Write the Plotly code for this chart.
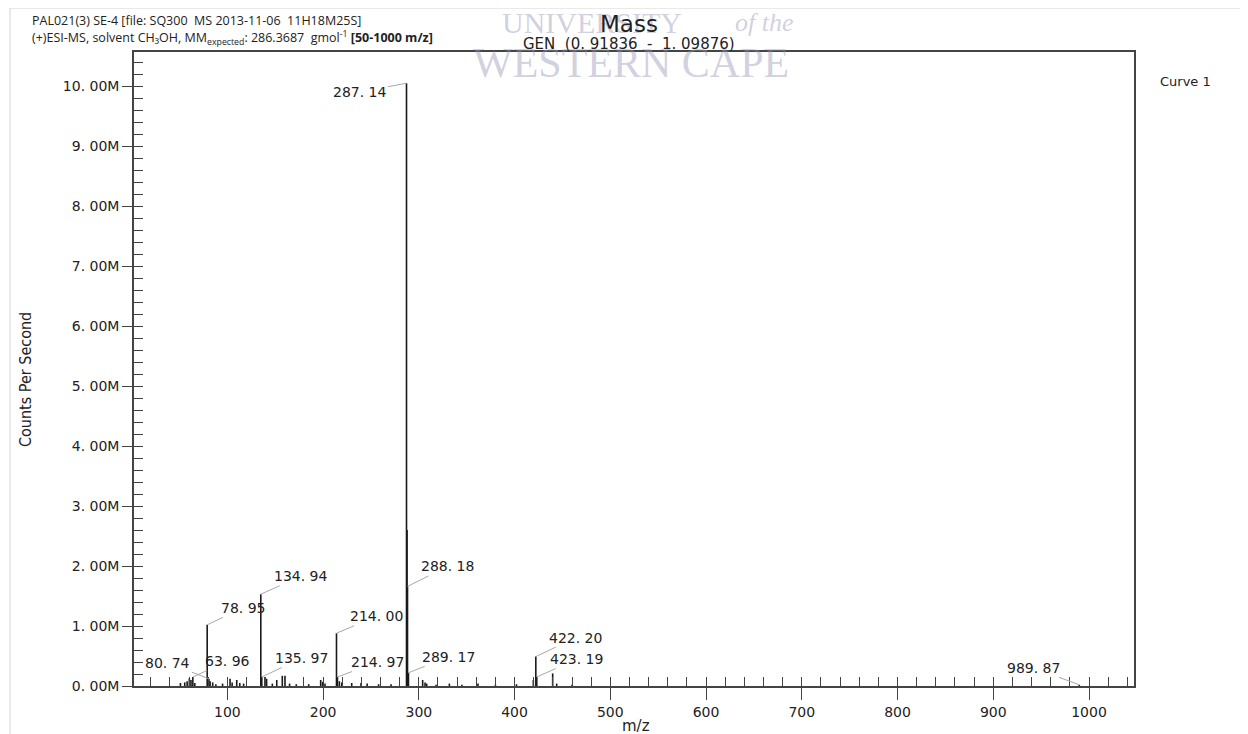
import plotly.graph_objects as go

# ---------------- data ----------------
peak_mz = [51.0, 55.5, 58.0, 60.3, 62.0, 63.96, 66.0, 78.95, 80.74, 82.0, 84.7, 88.0,
           95.0, 102.8, 105.0, 109.8, 113.0, 117.0, 134.94, 135.97, 139.3, 141.0,
           147.0, 151.6, 157.4, 160.2, 165.0, 172.0, 185.0, 197.5, 199.5, 202.0,
           214.00, 214.97, 217.0, 219.5, 229.9, 239.6, 246.0, 258.0, 271.0,
           287.14, 287.7, 288.18, 289.17, 304.0, 306.5, 308.2, 318.0, 331.9, 345.0,
           361.8, 380.0, 402.0, 419.6, 422.20, 423.19, 439.8, 444.0, 460.0, 989.87]
peak_counts_m = [0.05, 0.06, 0.08, 0.13, 0.10, 0.15, 0.05, 1.02, 0.12, 0.08, 0.06, 0.03,
                 0.04, 0.12, 0.06, 0.10, 0.05, 0.04, 1.53, 0.15, 0.15, 0.12,
                 0.04, 0.10, 0.17, 0.17, 0.04, 0.03, 0.03, 0.10, 0.07, 0.04,
                 0.88, 0.15, 0.08, 0.06, 0.05, 0.05, 0.04, 0.03, 0.03,
                 10.05, 2.60, 1.66, 0.22, 0.10, 0.06, 0.04, 0.02, 0.04, 0.02,
                 0.04, 0.02, 0.03, 0.10, 0.49, 0.15, 0.21, 0.04, 0.02, 0.02]

label_mz = [287.14, 288.18, 289.17, 78.95, 80.74, 63.96, 134.94, 135.97,
            214.00, 214.97, 422.20, 423.19, 989.87]
label_text = ["287. 14", "288. 18", "289. 17", "78. 95", "80. 74", "63. 96", "134. 94",
              "135. 97", "214. 00", "214. 97", "422. 20", "423. 19", "989. 87"]
label_offsets = [(-47, 9), (40, -20), (40, -16), (36, -17), (-41, -16), (35, -16),
                 (40, -18), (40, -19), (40, -17), (40, -15), (40, -19), (40, -18),
                 (-46, -17)]

y_tick_vals_m = [0, 1, 2, 3, 4, 5, 6, 7, 8, 9, 10]
y_tick_text = ["0. 00M", "1. 00M", "2. 00M", "3. 00M", "4. 00M", "5. 00M",
               "6. 00M", "7. 00M", "8. 00M", "9. 00M", "10. 00M"]
x_tick_vals = [100, 200, 300, 400, 500, 600, 700, 800, 900, 1000]

# ---------------- geometry (page pixels; the page body adds an 8px offset) ----------------
OFF = 8
PL, PT, PR, PB = 134, 52, 1134, 686          # plot box in page pixels
FW, FH = 1248 - OFF, 734 - OFF
L, T = PL - OFF, PT - OFF
W, H = PR - PL, PB - PT

def px(xp):
    return (xp - PL) / W
def py(yp):
    return (PB - yp) / H

counts = [v * 1e6 for v in peak_counts_m]
xs, ys = [], []
for m, c in zip(peak_mz, counts):
    xs += [m, m, None]
    ys += [0, c, None]

fig = go.Figure()
fig.add_trace(go.Scatter(x=xs, y=ys, mode="lines",
                         line=dict(color="#1a1a1a", width=1.6),
                         hoverinfo="skip", showlegend=False))
# same data on the overlay axes (invisible) so that the minor-tick axes are drawn
fig.add_trace(go.Scatter(x=xs, y=ys, mode="none", xaxis="x2", yaxis="y2",
                         hoverinfo="skip", showlegend=False))

XR = [2.5, 1047]
YR = [0, 10.57e6]
axis_col = "#444444"
tick_font = dict(family="DejaVu Sans", size=14, color="#222222")

fig.update_layout(
    width=FW, height=FH,
    margin=dict(l=L, r=FW - L - W, t=T, b=FH - T - H, pad=0),
    paper_bgcolor="white", plot_bgcolor="white",
    showlegend=False,
    xaxis=dict(range=XR, showgrid=False, zeroline=False, showline=True, mirror=True,
               linecolor=axis_col, linewidth=1.5, ticks="outside", ticklen=12,
               tickwidth=1.3, tickcolor=axis_col, tickvals=x_tick_vals,
               tickfont=tick_font),
    yaxis=dict(range=YR, showgrid=False, zeroline=False, showline=True, mirror=True,
               linecolor=axis_col, linewidth=1.5, ticks="outside", ticklen=10,
               tickwidth=1.3, tickcolor=axis_col,
               tickvals=[v * 1e6 for v in y_tick_vals_m], ticktext=y_tick_text,
               tickfont=tick_font),
    xaxis2=dict(range=XR, overlaying="x", anchor="y", side="bottom", showgrid=False,
                zeroline=False, showline=False, ticks="inside", ticklen=9,
                tickwidth=1.2, tickcolor=axis_col, tick0=0, dtick=20,
                showticklabels=False),
    yaxis2=dict(range=YR, overlaying="y", anchor="x", side="left", showgrid=False,
                zeroline=False, showline=False, ticks="inside", ticklen=9,
                tickwidth=1.2, tickcolor=axis_col, tick0=0, dtick=0.2e6,
                showticklabels=False),
)

# peak labels with leader lines
peak_lookup = dict(zip(peak_mz, counts))
for m, txt, (ax, ay) in zip(label_mz, label_text, label_offsets):
    fig.add_annotation(x=m, y=peak_lookup[m], xref="x", yref="y", text=txt,
                       showarrow=True, arrowhead=0, arrowwidth=1,
                       arrowcolor="#a8a8a8", ax=ax, ay=ay,
                       font=dict(family="DejaVu Sans", size=14, color="#222222"))

# watermark
wm_col = "rgba(150,150,185,0.45)"
fig.add_annotation(xref="paper", yref="paper", x=px(592), y=py(22), showarrow=False,
                   text="UNIVERSITY", xanchor="center", yanchor="middle",
                   font=dict(family="Liberation Serif", size=30, color=wm_col))
fig.add_annotation(xref="paper", yref="paper", x=px(764), y=py(22), showarrow=False,
                   text="<i>of the</i>", xanchor="center", yanchor="middle",
                   font=dict(family="Liberation Serif", size=26, color=wm_col))
fig.add_annotation(xref="paper", yref="paper", x=px(631), y=py(63), showarrow=False,
                   text="WESTERN CAPE", xanchor="center", yanchor="middle",
                   font=dict(family="Liberation Serif", size=42, color=wm_col))

# header texts
hdr_font = dict(family="Open Sans", size=12.5, color="#222222")
fig.add_annotation(xref="paper", yref="paper", x=px(30), y=py(20), showarrow=False,
                   xanchor="left", yanchor="middle", font=hdr_font,
                   text="PAL021(3) SE-4 [file: SQ300  MS 2013-11-06  11H18M25S]")
fig.add_annotation(xref="paper", yref="paper", x=px(30), y=py(38), showarrow=False,
                   xanchor="left", yanchor="middle", font=hdr_font,
                   text="(+)ESI-MS, solvent CH₃OH, MM<sub>expected</sub>: 286.3687  gmol<sup>-1</sup> <b>[50-1000 m/z]</b>")

# title
fig.add_annotation(xref="paper", yref="paper", x=px(629), y=py(24), showarrow=False,
                   xanchor="center", yanchor="middle", text="Mass",
                   font=dict(family="DejaVu Sans", size=23, color="#222222"))
fig.add_annotation(xref="paper", yref="paper", x=px(629), y=py(44), showarrow=False,
                   xanchor="center", yanchor="middle",
                   text="GEN  (0. 91836  -  1. 09876)",
                   font=dict(family="DejaVu Sans", size=15, color="#222222"))

# curve label
fig.add_annotation(xref="paper", yref="paper", x=px(1185), y=py(81), showarrow=False,
                   xanchor="center", yanchor="middle", text="Curve 1",
                   font=dict(family="DejaVu Sans", size=13, color="#222222"))

# axis titles
fig.add_annotation(xref="paper", yref="paper", x=px(25), y=py(380), showarrow=False,
                   xanchor="center", yanchor="middle", text="Counts Per Second",
                   textangle=-90,
                   font=dict(family="DejaVu Sans Condensed", size=16, color="#222222"))
fig.add_annotation(xref="paper", yref="paper", x=px(636), y=py(726), showarrow=False,
                   xanchor="center", yanchor="middle", text="m/z",
                   font=dict(family="DejaVu Sans", size=15, color="#222222"))

# outer light frame
fig.add_shape(type="rect", xref="paper", yref="paper", x0=px(10), x1=px(1262),
              y0=py(745), y1=py(8), line=dict(color="#d4d4d4", width=1),
              fillcolor="rgba(0,0,0,0)", layer="below")

fig.write_html("out.html")
